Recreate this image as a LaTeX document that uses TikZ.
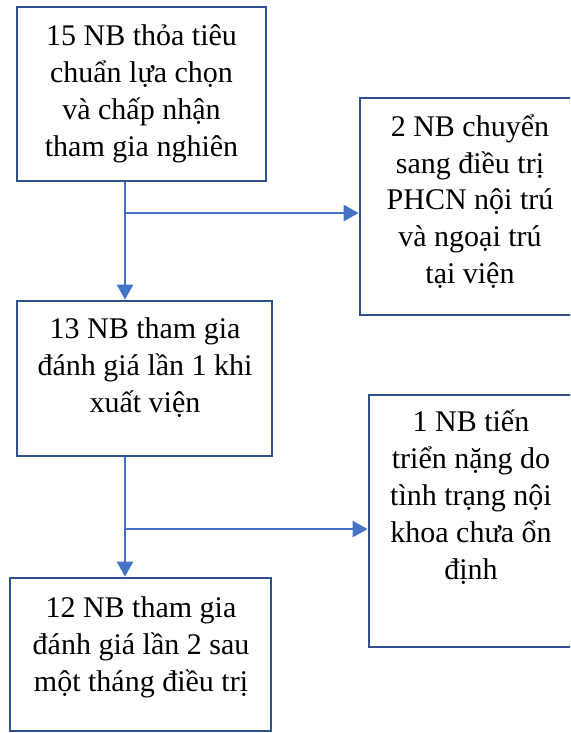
\documentclass[tikz,border=0pt]{standalone}
\usepackage{fontspec}
\setmainfont{Liberation Serif}
\usetikzlibrary{arrows.meta}
\definecolor{boxblue}{HTML}{2F528F}
\definecolor{linkblue}{HTML}{4472C4}
\begin{document}
\begin{tikzpicture}[x=1pt,y=-1pt,
  boxrect/.style={draw=boxblue,line width=2.8pt,inner sep=0pt},
  boxtext/.style={align=center,inner sep=0pt,anchor=base,font=\fontsize{30}{36.8}\selectfont},
  link/.style={draw=linkblue,line width=2.5pt,-{Triangle[length=15pt,width=16pt]}}]
\clip (0,0) rectangle (570,733);
\fill[white] (0,0) rectangle (570,733);
% boxes
\node[boxrect,minimum width=249pt,minimum height=174pt] (b1) at (141.5,94) {};
\node[boxrect,minimum width=255pt,minimum height=155pt] (b2) at (144.5,378.5) {};
\node[boxrect,minimum width=261pt,minimum height=153pt] (b3) at (140.5,654.5) {};
\node[boxrect,minimum width=230pt,minimum height=217pt] (r1) at (475,206.5) {};
\node[boxrect,minimum width=220pt,minimum height=252pt] (r2) at (479,521) {};
% texts (anchored at the baseline of the last line)
\node[boxtext] (t1) at (141.5,156) {15 NB thỏa tiêu\\chuẩn lựa chọn\\và chấp nhận\\tham gia nghiên};
\node[boxtext] (t2) at (145,412) {13 NB tham gia\\đánh giá lần 1 khi\\xuất viện};
\node[boxtext] (t3) at (141,691) {12 NB tham gia\\đánh giá lần 2 sau\\một tháng điều trị};
\node[boxtext] (t4) at (470,283.5) {2 NB chuyển\\sang điều trị\\PHCN nội trú\\và ngoại trú\\tại viện};
\node[boxtext] (t5) at (471,579) {1 NB tiến\\triển nặng do\\tình trạng nội\\khoa chưa ổn\\định};
% connectors
\coordinate (j1) at (125,213);
\coordinate (j2) at (125,529);
\draw[link] (b1.south -| j1) -- (b2.north -| j1);
\draw[link] (j1) -- (j1 -| r1.west);
\draw[link] (b2.south -| j2) -- (b3.north -| j2);
\draw[link] (j2) -- (j2 -| r2.west);
\end{tikzpicture}
\end{document}
